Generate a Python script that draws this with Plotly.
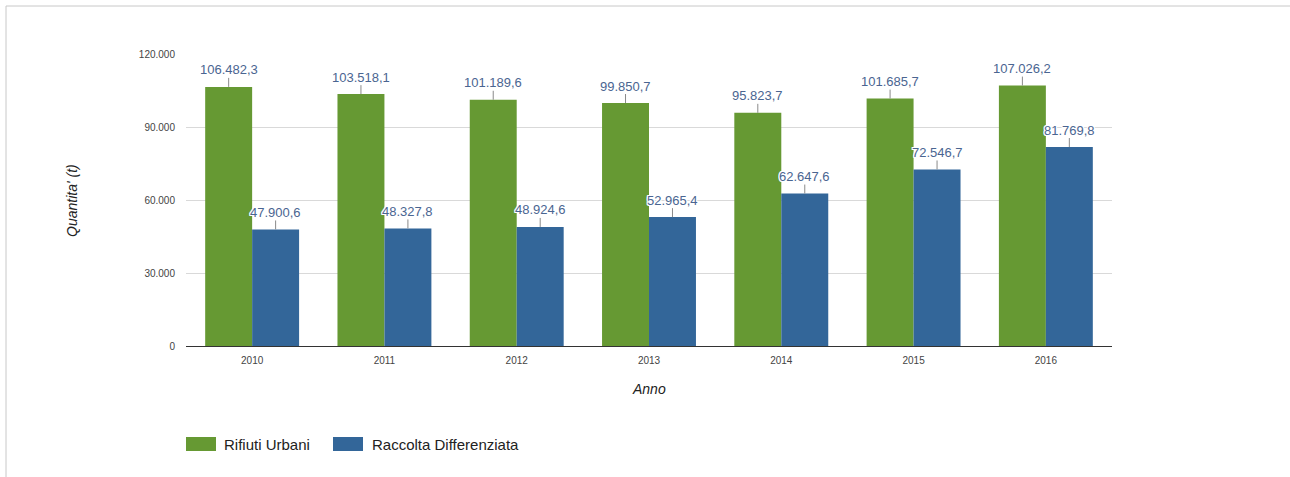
import plotly.graph_objects as go

# Annual data (tonnes)
anni = [2010, 2011, 2012, 2013, 2014, 2015, 2016]
rifiuti_urbani = [106482.3, 103518.1, 101189.6, 99850.7, 95823.7, 101685.7, 107026.2]
raccolta_differenziata = [47900.6, 48327.8, 48924.6, 52965.4, 62647.6, 72546.7, 81769.8]
serie_nomi = ["Rifiuti Urbani", "Raccolta Differenziata"]
colori = ["#669933", "#336699"]
y_ticks = [0, 30000, 60000, 90000, 120000]

W, H = 1290, 477
ML, MR, MT, MB = 186, 178, 54, 131
PW, PH = W - ML - MR, H - MT - MB

BARGAP = 0.29
half = (1 - BARGAP) / 4  # offset of each bar centre from the category centre


def it_num(v):
    s = f"{v:,.1f}"
    return s.replace(",", "X").replace(".", ",").replace("X", ".")


fig = go.Figure()
for nome, valori, col in zip(serie_nomi, [rifiuti_urbani, raccolta_differenziata], colori):
    fig.add_trace(go.Bar(x=anni, y=valori, name=nome, marker=dict(color=col, line=dict(width=0)),
                         showlegend=False))

# value labels with a short leader line above each bar
halo = "1px 0 0 #fff, -1px 0 0 #fff, 0 1px 0 #fff, 0 -1px 0 #fff, 1px 1px 0 #fff, -1px -1px 0 #fff, 1px -1px 0 #fff, -1px 1px 0 #fff"
for k, valori in enumerate([rifiuti_urbani, raccolta_differenziata]):
    dx = -half if k == 0 else half
    for a, v in zip(anni, valori):
        fig.add_annotation(x=a + dx, y=v, xref="x", yref="y", text=it_num(v),
                           showarrow=True, arrowhead=0, arrowwidth=1, arrowcolor="#8a8a8a",
                           ax=0, ay=-17, borderpad=0,
                           font=dict(family="Arial, Liberation Sans, sans-serif", size=13,
                                     color="#4a6591", shadow=halo))


def px_x(p):
    return (p - ML) / PW


def px_y(p):
    return 1 - (p - MT) / PH


# legend drawn as swatches + labels
legend_items = [(186, 222), (333, 370)]
for (sx, tx), nome, col in zip(legend_items, serie_nomi, colori):
    fig.add_shape(type="rect", xref="paper", yref="paper",
                  x0=px_x(sx), x1=px_x(sx + 30), y0=px_y(451), y1=px_y(437),
                  fillcolor=col, line=dict(width=0))
    fig.add_annotation(xref="paper", yref="paper", x=px_x(tx), y=px_y(444), text=nome,
                       showarrow=False, xanchor="left", yanchor="middle",
                       font=dict(family="Arial, Liberation Sans, sans-serif", size=15, color="#222"))

# outer frame
fig.add_shape(type="line", xref="paper", yref="paper", x0=px_x(6), x1=px_x(W), y0=px_y(6), y1=px_y(6),
              line=dict(color="#c8c8c8", width=1))
fig.add_shape(type="line", xref="paper", yref="paper", x0=px_x(6), x1=px_x(6), y0=px_y(6), y1=px_y(H + 5),
              line=dict(color="#c8c8c8", width=1))

# axis titles
fig.add_annotation(xref="paper", yref="paper", x=px_x(649), y=px_y(399), text="<i>Anno</i>",
                   showarrow=False, font=dict(family="Arial, Liberation Sans, sans-serif", size=14, color="#222"))
fig.add_annotation(xref="paper", yref="paper", x=px_x(72), y=px_y(201), text="<i>Quantita' (t)</i>",
                   showarrow=False, textangle=-90, xanchor="center", yanchor="middle",
                   font=dict(family="Arial, Liberation Sans, sans-serif", size=14, color="#222"))

fig.update_layout(
    width=W, height=H,
    margin=dict(l=ML, r=MR, t=MT, b=MB, pad=0),
    paper_bgcolor="white", plot_bgcolor="white",
    barmode="group", bargap=BARGAP, bargroupgap=0,
    separators=",.",
    showlegend=False,
    xaxis=dict(tickmode="array", tickvals=anni, ticktext=[str(a) for a in anni],
               range=[anni[0] - 0.5, anni[-1] + 0.5], showgrid=False, zeroline=False,
               showline=True, linecolor="#333", linewidth=1, ticks="",
               ticklabelstandoff=5,
               tickfont=dict(family="Arial, Liberation Sans, sans-serif", size=10, color="#444")),
    yaxis=dict(range=[0, 120000], tickvals=y_ticks, tickformat=",d", showgrid=True,
               gridcolor="#d9d9d9", gridwidth=1, zeroline=False, showline=False, ticks="",
               ticklabelstandoff=10,
               tickfont=dict(family="Arial, Liberation Sans, sans-serif", size=10, color="#444")),
    font=dict(family="Arial, Liberation Sans, sans-serif"),
)

fig.write_html("out.html")
